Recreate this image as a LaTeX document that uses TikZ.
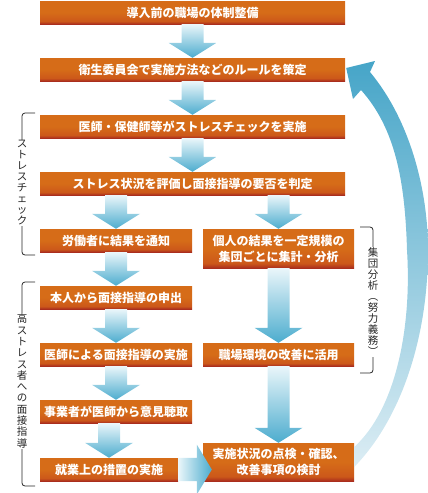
\documentclass[tikz,border=0pt]{standalone}
\usepackage{fontspec}
\newfontfamily\jp{Noto Sans CJK JP}
\usetikzlibrary{calc}

\definecolor{boxtop}{RGB}{214,108,24}
\definecolor{boxmid}{RGB}{204,88,26}
\definecolor{boxbot}{RGB}{170,46,30}
\definecolor{flowtop}{RGB}{234,246,250}
\definecolor{flowbot}{RGB}{76,172,206}
\definecolor{looptop}{RGB}{70,165,200}
\definecolor{loopbot}{RGB}{220,237,244}
\pgfdeclareverticalshading{boxshade}{100bp}{color(0bp)=(boxbot); color(25bp)=(boxbot); color(31bp)=(boxmid); color(50bp)=(boxtop); color(100bp)=(boxtop)}

\tikzset{
  stepbox/.style={shade, shading=boxshade, text=white, inner sep=0pt, align=center,
    minimum height=23pt, font=\jp\bfseries\fontsize{12}{16}\selectfont},
  flowarrow/.style={top color=flowtop, bottom color=flowbot},
  bracket/.style={draw=black!85, line width=0.8pt, rounded corners=3pt},
  vlabel/.style={fill=white, inner sep=1pt, align=center, text=black!85,
    font=\jp\fontsize{10.5}{11}\selectfont}
}

% vertical block arrow from one box down to the next
\newcommand{\downflow}[2]{%
  \shade[flowarrow] ($(#1.south -| #2.north)+(-11,0)$) -- ($(#2.north)+(-11,-15)$)
    -- ($(#2.north)+(-24,-15)$) -- (#2.north) -- ($(#2.north)+(24,-15)$)
    -- ($(#2.north)+(11,-15)$) -- ($(#1.south -| #2.north)+(11,0)$) -- cycle;}
% horizontal block arrow
\newcommand{\rightflow}[2]{%
  \shade[left color=flowtop, right color=flowbot] (#1.north east)
    -- ($(#2.west |- #1.north)+(-6,0)$) -- ($(#2.west |- #1.east)+(-6,-25)$)
    -- ($(#2.west |- #1.east)+(9,0)$) -- ($(#2.west |- #1.east)+(-6,25)$)
    -- ($(#2.west |- #1.south)+(-6,0)$) -- (#1.south east) -- cycle;}

\begin{document}
\begin{tikzpicture}[x=1pt,y=-1pt]
\useasboundingbox (0,0) rectangle (428,493);

\node[stepbox, minimum width=305pt] (prep) at (192.5,12.5) {導入前の職場の体制整備};
\node[stepbox, minimum width=305pt] (rule) at (192.5,69.5) {衛生委員会で実施方法などのルールを策定};
\node[stepbox, minimum width=305pt] (check) at (192.5,126.5) {医師・保健師等がストレスチェックを実施};
\node[stepbox, minimum width=305pt] (judge) at (192.5,183.5) {ストレス状況を評価し面接指導の要否を判定};

\node[stepbox, minimum width=152pt] (notify) at (116,240.5) {労働者に結果を通知};
\node[stepbox, minimum width=152pt] (request) at (116,297.5) {本人から面接指導の申出};
\node[stepbox, minimum width=152pt] (interview) at (116,354.5) {医師による面接指導の実施};
\node[stepbox, minimum width=152pt] (opinion) at (116,411.5) {事業者が医師から意見聴取};
\node[stepbox, minimum width=138pt] (measure) at (109,469.5) {就業上の措置の実施};

\node[stepbox, minimum width=151pt, minimum height=39pt] (group) at (278.5,248.5) {個人の結果を一定規模の\\集団ごとに集計・分析};
\node[stepbox, minimum width=151pt] (improve) at (278.5,354.5) {職場環境の改善に活用};
\node[stepbox, minimum width=151pt, minimum height=38pt] (review) at (278.5,462) {実施状況の点検・確認、\\改善事項の検討};

\downflow{prep}{rule}
\downflow{rule}{check}
\downflow{check}{judge}
\downflow{judge}{notify}
\downflow{judge}{group}
\downflow{notify}{request}
\downflow{request}{interview}
\downflow{interview}{opinion}
\downflow{opinion}{measure}
\downflow{group}{improve}
\downflow{improve}{review}
\rightflow{measure}{review}

% feedback loop back to the rules
\shade[top color=looptop, bottom color=loopbot] ($(review.east)+(0,-15)$)
  .. controls (395,410) and (412,330) .. (407,250)
  .. controls (405,180) and (395,128) .. (361,90)
  -- (353,99) -- ($(rule.east)+(1,-1.5)$) -- (375,61) -- (370,72)
  .. controls (410,120) and (428,190) .. (428,250)
  .. controls (428,340) and (400,420) .. ($(review.east)+(0,5)$) -- cycle;

% side labels
\draw[bracket] (35,113) -| (22,184) |- (35,255);
\node[vlabel] (stresslbl) at (22,183) {ス\\ト\\レ\\ス\\チ\\ェ\\ッ\\ク};
\draw[bracket] (35,282) -| (22,384) |- (35,486);
\node[vlabel, font=\jp\fontsize{10.5}{11.3}\selectfont] (highlbl) at (22,381) {高\\ス\\ト\\レ\\ス\\者\\へ\\の\\面\\接\\指\\導};
\draw[bracket] (360,227) -| (373,300) |- (360,373);
\node[vlabel] (grouplbl) at (373,302) {集\\団\\分\\析\\︵\\努\\力\\義\\務\\︶};
\end{tikzpicture}
\end{document}
